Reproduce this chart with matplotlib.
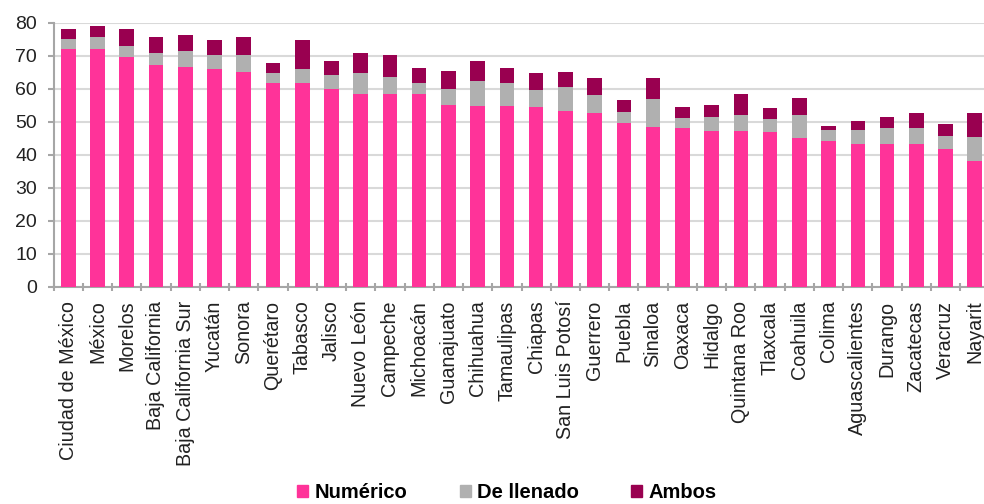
import numpy as np
import matplotlib
matplotlib.use('Agg')
import matplotlib.pyplot as plt
from matplotlib.patches import Patch

plt.rcParams['font.family'] = ['Liberation Sans', 'DejaVu Sans']

estados = ['Ciudad de México', 'México', 'Morelos', 'Baja California', 'Baja California Sur',
           'Yucatán', 'Sonora', 'Querétaro', 'Tabasco', 'Jalisco', 'Nuevo León', 'Campeche',
           'Michoacán', 'Guanajuato', 'Chihuahua', 'Tamaulipas', 'Chiapas', 'San Luis Potosí',
           'Guerrero', 'Puebla', 'Sinaloa', 'Oaxaca', 'Hidalgo', 'Quintana Roo', 'Tlaxcala',
           'Coahuila', 'Colima', 'Aguascalientes', 'Durango', 'Zacatecas', 'Veracruz', 'Nayarit']

# cumulative tops
numerico = [72.0, 72.0, 69.7, 67.2, 66.5, 65.9, 65.1, 61.6, 61.6, 59.8, 58.3, 58.3,
            58.3, 55.1, 54.8, 54.8, 54.5, 53.1, 52.5, 49.5, 48.5, 48.2, 47.2, 47.2,
            46.8, 45.2, 44.1, 43.3, 43.3, 43.3, 41.8, 38.0]
top_llenado = [75.0, 75.6, 73.0, 70.9, 71.4, 70.3, 70.3, 64.8, 66.1, 64.1, 64.7, 63.5,
               61.8, 60.0, 62.4, 61.8, 59.6, 60.4, 58.0, 53.0, 56.9, 51.0, 51.3, 51.9,
               50.7, 51.9, 47.5, 47.5, 48.2, 48.2, 45.7, 45.3]
top_ambos = [78.1, 79.1, 78.0, 75.8, 76.4, 74.7, 75.8, 67.9, 74.7, 68.4, 70.9, 70.2,
             66.4, 65.4, 68.4, 66.4, 64.7, 65.1, 63.2, 56.6, 63.2, 54.4, 55.1, 58.3,
             54.1, 57.3, 48.8, 50.3, 51.3, 52.6, 49.2, 52.6]

numerico = np.array(numerico)
llenado = np.array(top_llenado) - numerico
ambos = np.array(top_ambos) - np.array(top_llenado)

c_num = '#ff3399'
c_lle = '#b0b0b0'
c_amb = '#990050'

fig = plt.figure(figsize=(9.84, 5.04), dpi=100)
ax = fig.add_axes([0.0545, 0.431, 0.951, 0.524])

x = np.arange(len(estados))
w = 0.5
ax.bar(x, numerico, w, color=c_num, zorder=3)
ax.bar(x, llenado, w, bottom=numerico, color=c_lle, zorder=3)
ax.bar(x, ambos, w, bottom=numerico + llenado, color=c_amb, zorder=3)

ax.set_xlim(-0.5, len(estados) - 0.5)
ax.set_ylim(0, 80)
ax.set_yticks(np.arange(0, 81, 10))
ax.yaxis.grid(True, color='#d9d9d9', linewidth=1.5, zorder=0)
ax.set_axisbelow(True)

ax.set_xticks(x)
ax.set_xticklabels(estados, rotation=90, fontsize=14.2, color='#222222')
ax.set_xticks(np.arange(-0.5, len(estados), 1), minor=True)
ax.tick_params(axis='x', which='major', length=0, pad=10)
ax.tick_params(axis='x', which='minor', length=6, width=1.5, color='#a6a6a6', direction='inout')
ax.tick_params(axis='y', labelsize=14, length=4, width=1.5, color='#a6a6a6', pad=8, labelcolor='#222222')

for s in ['top', 'right']:
    ax.spines[s].set_visible(False)
for s in ['left', 'bottom']:
    ax.spines[s].set_color('#a6a6a6')
    ax.spines[s].set_linewidth(1.5)

handles = [Patch(color=c_num, label='Numérico'),
           Patch(color=c_lle, label='De llenado'),
           Patch(color=c_amb, label='Ambos')]
fig.legend(handles=handles, loc='center', bbox_to_anchor=(0.515, 0.023), ncol=3,
           frameon=False, handlelength=0.55, handleheight=0.55, handletextpad=0.3,
           columnspacing=2.6, prop={'size': 14.5, 'weight': 'bold'})

fig.savefig('out.png', dpi=100)
